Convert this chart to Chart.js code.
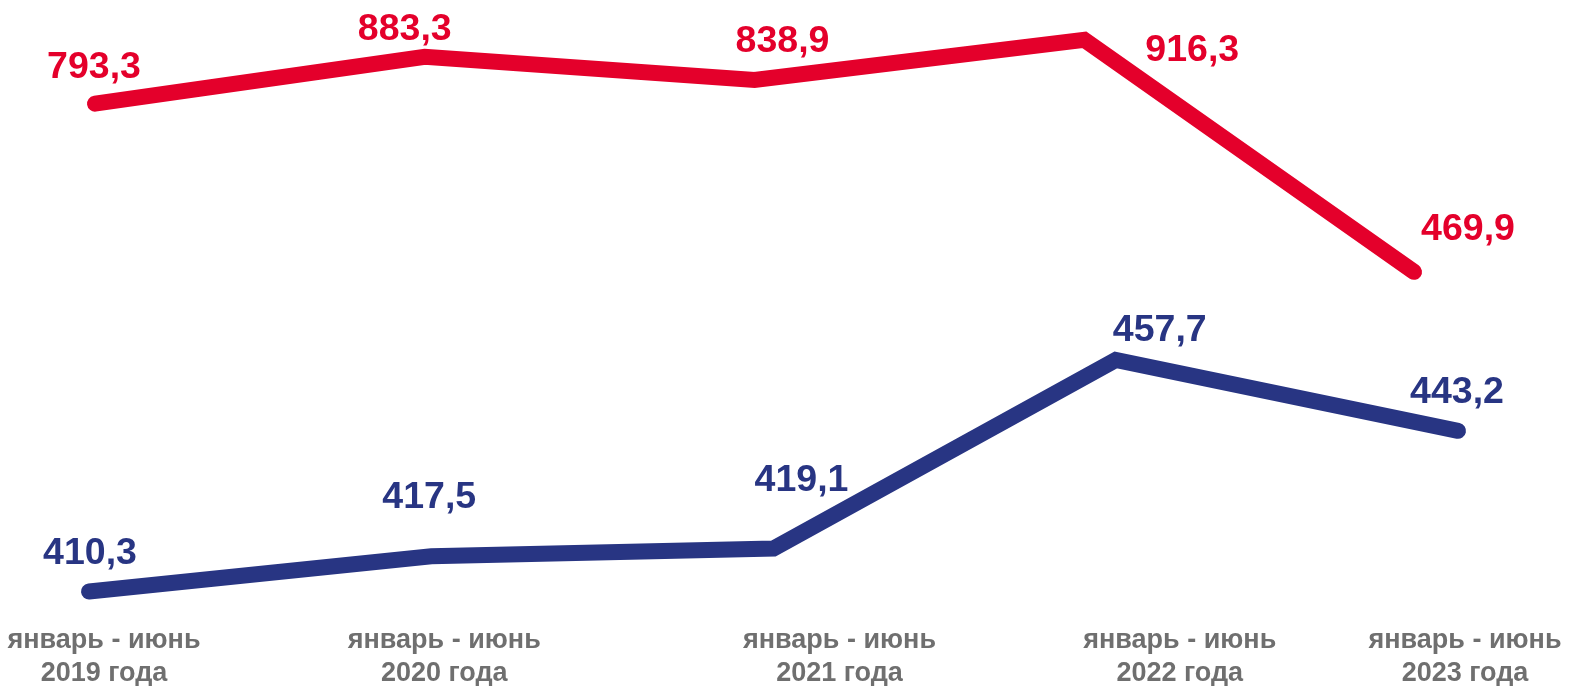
<!DOCTYPE html>
<html lang="ru">
<head>
<meta charset="utf-8">
<title>январь - июнь 2019–2023</title>
<script src="https://cdn.jsdelivr.net/npm/chart.js@4/dist/chart.umd.min.js"></script>
<style>
    html, body { margin: 0; padding: 0; background: #fff; }
    #wrap { width: 1570px; height: 686px; position: relative; }
</style>
</head>
<body>
<div id="wrap"><canvas id="lineChart"></canvas></div>
<script>
// ---- data ----
const periods   = ['январь - июнь', 'январь - июнь', 'январь - июнь', 'январь - июнь', 'январь - июнь'];
const years     = ['2019 года', '2020 года', '2021 года', '2022 года', '2023 года'];
const redValues  = [793.3, 883.3, 838.9, 916.3, 469.9];
const blueValues = [410.3, 417.5, 419.1, 457.7, 443.2];

// label offsets from each point (px), as placed in the original
const redLabelShift  = [[-1, -36], [-20, -27], [28, -38], [108, 11], [54, -42]];
const blueLabelShift = [[1, -38], [-2, -59], [28, -68], [44, -29], [-1, -38]];
// bottom labels are not evenly spaced in the original
const periodShift = [0, 0, 55, 55, 0];

const RED  = '#e4002b';
const BLUE = '#283583';
const GREY = '#6f6f6f';

const fmt = v => v.toFixed(1).replace('.', ',');

// ---- value labels ----
const valueLabels = {
    id: 'valueLabels',
    afterDatasetsDraw(chart) {
        const ctx = chart.ctx;
        ctx.save();
        ctx.font = 'bold 37.5px "Liberation Sans", Arial, sans-serif';
        ctx.textAlign = 'center';
        ctx.textBaseline = 'middle';
        chart.data.datasets.forEach((ds, di) => {
            const meta = chart.getDatasetMeta(di);
            ctx.fillStyle = ds.borderColor;
            meta.data.forEach((pt, i) => {
                const [dx, dy] = ds.labelShift[i];
                ctx.fillText(fmt(ds.data[i].y), pt.x + dx, pt.y + dy);
            });
        });
        ctx.restore();
    }
};

// ---- category labels along the bottom ----
const periodLabels = {
    id: 'periodLabels',
    afterDraw(chart) {
        const ctx = chart.ctx;
        const sc = chart.scales.xl;
        ctx.save();
        ctx.font = 'bold 27px "Liberation Sans", Arial, sans-serif';
        ctx.fillStyle = GREY;
        ctx.textAlign = 'center';
        ctx.textBaseline = 'alphabetic';
        periods.forEach((p, i) => {
            const x = sc.getPixelForValue(i) + periodShift[i];
            ctx.fillText(p, x, 648);
            ctx.fillText(years[i], x, 681);
        });
        ctx.restore();
    }
};

new Chart(document.getElementById('lineChart'), {
    type: 'line',
    data: {
        datasets: [
            {
                label: 'red',
                data: redValues.map((v, i) => ({ x: i, y: v })),
                labelShift: redLabelShift,
                xAxisID: 'xr',
                yAxisID: 'yr',
                borderColor: RED,
                borderWidth: 16,
                borderCapStyle: 'round',
                borderJoinStyle: 'miter',
                pointRadius: 0,
                tension: 0,
                clip: false,
            },
            {
                label: 'blue',
                data: blueValues.map((v, i) => ({ x: i, y: v })),
                labelShift: blueLabelShift,
                xAxisID: 'xb',
                yAxisID: 'yb',
                borderColor: BLUE,
                borderWidth: 16,
                borderCapStyle: 'round',
                borderJoinStyle: 'miter',
                pointRadius: 0,
                tension: 0,
                clip: false,
            }
        ]
    },
    options: {
        responsive: true,
        maintainAspectRatio: false,
        animation: false,
        layout: { padding: { left: 89, right: 112, top: 0, bottom: 0 } },
        plugins: {
            legend: { display: false },
            tooltip: { enabled: false },
        },
        scales: {
            xb: { type: 'linear', display: false, min: 0, max: 4 },
            xr: { type: 'linear', display: false, min: -0.0182, max: 4.1334 },
            xl: { type: 'linear', display: false, min: -0.0441, max: 3.9794 },
            yr: { type: 'linear', display: false, min: -326.5, max: 992.7 },
            yb: { type: 'linear', display: false, min: 390.95, max: 531.4 },
        }
    },
    plugins: [valueLabels, periodLabels]
});
</script>
</body>
</html>
